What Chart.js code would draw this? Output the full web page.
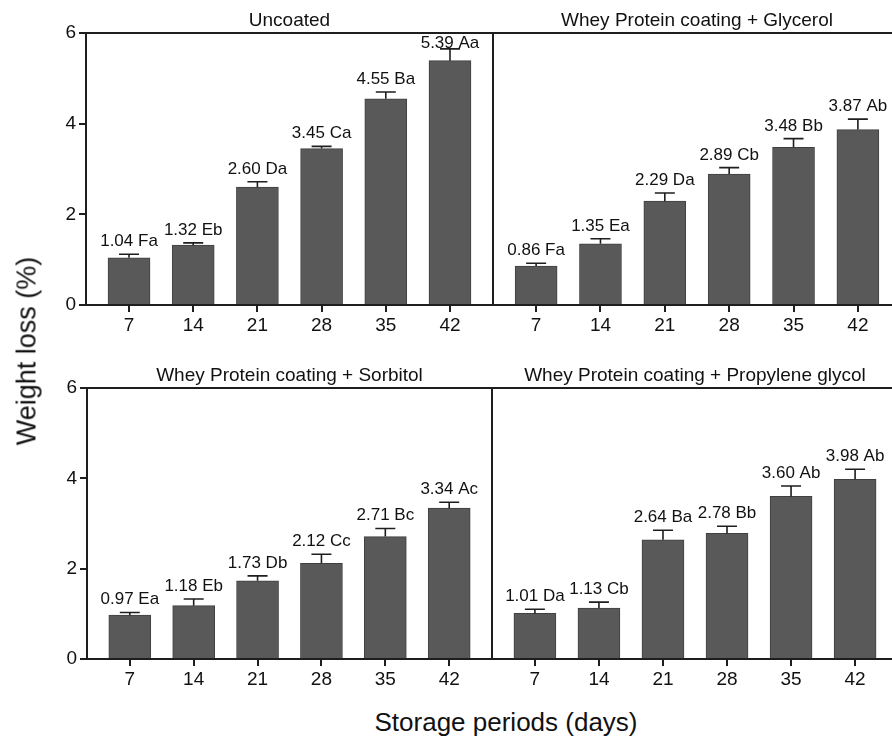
<!DOCTYPE html>
<html>
<head>
<meta charset="utf-8">
<script src="https://cdn.jsdelivr.net/npm/chart.js@4.4.1/dist/chart.umd.min.js"></script>
<style>
  html, body { margin:0; padding:0; background:#fff; }
  body { width:892px; height:738px; overflow:hidden; position:relative; font-family:"Liberation Sans", Arial, sans-serif; color:#111; }
  canvas { position:absolute; }
  .ytitle { position:absolute; left:27px; top:351px; font-size:27px; line-height:27px; white-space:nowrap;
            transform:translate(-50%,-50%) rotate(-90deg); }
  .xtitle { position:absolute; left:506px; top:709px; font-size:26px; line-height:26px; white-space:nowrap;
            transform:translateX(-50%); }
</style>
</head>
<body>
<canvas id="c1" style="left:0px;top:3px"></canvas>
<canvas id="c2" style="left:490px;top:3px"></canvas>
<canvas id="c3" style="left:0px;top:358px"></canvas>
<canvas id="c4" style="left:489px;top:358px"></canvas>
<div class="ytitle">Weight loss (%)</div>
<div class="xtitle">Storage periods (days)</div>
<script>
// ---- data ----
const days = [7, 14, 21, 28, 35, 42];
const dayLabels = ['7', '14', '21', '28', '35', '42'];
const yTicks = [0, 2, 4, 6];

const titleUncoated = 'Uncoated';
const valuesUncoated = [1.04, 1.32, 2.60, 3.45, 4.55, 5.39];
const errorsUncoated = [0.08, 0.05, 0.12, 0.05, 0.15, 0.26];
const lettersUncoated = ['Fa', 'Eb', 'Da', 'Ca', 'Ba', 'Aa'];

const titleGlycerol = 'Whey Protein coating + Glycerol';
const valuesGlycerol = [0.86, 1.35, 2.29, 2.89, 3.48, 3.87];
const errorsGlycerol = [0.06, 0.11, 0.18, 0.14, 0.19, 0.23];
const lettersGlycerol = ['Fa', 'Ea', 'Da', 'Cb', 'Bb', 'Ab'];

const titleSorbitol = 'Whey Protein coating + Sorbitol';
const valuesSorbitol = [0.97, 1.18, 1.73, 2.12, 2.71, 3.34];
const errorsSorbitol = [0.06, 0.15, 0.11, 0.20, 0.18, 0.13];
const lettersSorbitol = ['Ea', 'Eb', 'Db', 'Cc', 'Bc', 'Ac'];

const titlePropylene = 'Whey Protein coating + Propylene glycol';
const valuesPropylene = [1.01, 1.13, 2.64, 2.78, 3.60, 3.98];
const errorsPropylene = [0.09, 0.13, 0.21, 0.16, 0.23, 0.22];
const lettersPropylene = ['Da', 'Cb', 'Ba', 'Bb', 'Ab', 'Ab'];

// ---- drawing ----
const FONT = '"Liberation Sans", Arial, sans-serif';
Chart.defaults.font.family = FONT;
Chart.defaults.color = '#111';
const AXIS = '#1e1e1e';

const extras = {
  id: 'extras',
  afterDatasetsDraw(chart, args, opts) {
    const ctx = chart.ctx;
    const ca = chart.chartArea;
    const ys = chart.scales.y;
    const meta = chart.getDatasetMeta(0);
    ctx.save();
    ctx.strokeStyle = AXIS;
    ctx.lineWidth = 2;
    ctx.beginPath();
    ctx.moveTo(ca.left, Math.round(ca.top));
    ctx.lineTo(ca.right, Math.round(ca.top));
    ctx.stroke();
    ctx.lineWidth = 1.6;
    ctx.font = '17px ' + FONT;
    ctx.fillStyle = '#111';
    ctx.textAlign = 'center';
    ctx.textBaseline = 'alphabetic';
    meta.data.forEach((el, i) => {
      const v = opts.values[i];
      const e = opts.errors[i];
      const yTop = ys.getPixelForValue(v + e);
      ctx.beginPath();
      ctx.moveTo(el.x, el.y);
      ctx.lineTo(el.x, yTop);
      ctx.moveTo(el.x - 10, yTop);
      ctx.lineTo(el.x + 10, yTop);
      ctx.stroke();
      const ly = Math.max(yTop - 8, ca.top + 15);
      ctx.fillText(v.toFixed(2) + ' ' + opts.letters[i], el.x, ly);
    });
    ctx.font = '19px ' + FONT;
    ctx.fillText(opts.title, (ca.left + ca.right) / 2, ca.top - 7);
    ctx.restore();
  }
};

function panel(id, width, height, yw, padRight, title, values, errors, letters, showY) {
  const cv = document.getElementById(id);
  cv.width = width; cv.height = height;
  cv.style.width = width + 'px'; cv.style.height = height + 'px';
  return new Chart(cv, {
    type: 'bar',
    data: {
      datasets: [{
        data: days.map((d, i) => ({ x: d, y: values[i] })),
        backgroundColor: '#595959',
        borderColor: '#404040',
        borderWidth: 1,
        barThickness: 42
      }]
    },
    options: {
      responsive: false,
      animation: false,
      devicePixelRatio: 1,
      layout: { padding: { top: 30, right: padRight, left: 0, bottom: 0 } },
      plugins: {
        legend: { display: false },
        tooltip: { enabled: false },
        extras: { title, values, errors, letters }
      },
      scales: {
        x: {
          type: 'linear',
          offset: false,
          min: 2.31, max: 46.69,
          afterBuildTicks: s => { s.ticks = days.map(v => ({ value: v })); },
          afterFit: s => { s.height = 35; },
          ticks: {
            autoSkip: false, maxRotation: 0, padding: 2,
            font: { size: 19 }, color: '#111',
            callback: (v, i) => dayLabels[i]
          },
          grid: { offset: false, drawOnChartArea: false, drawTicks: true, tickLength: 7, color: AXIS, lineWidth: 2 },
          border: { display: true, color: AXIS, width: 2 }
        },
        y: {
          min: 0, max: 6,
          afterBuildTicks: s => { s.ticks = yTicks.map(v => ({ value: v })); },
          afterFit: s => { s.width = yw; },
          ticks: { display: showY, padding: 3, font: { size: 19 }, color: '#111' },
          grid: { drawOnChartArea: false, drawTicks: showY, tickLength: 7, color: AXIS, lineWidth: 2 },
          border: { display: true, color: AXIS, width: 2 }
        }
      }
    },
    plugins: [extras]
  });
}

panel('c1', 495, 337, 86, 2, titleUncoated, valuesUncoated, errorsUncoated, lettersUncoated, true);
panel('c2', 411, 337, 3, 0, titleGlycerol, valuesGlycerol, errorsGlycerol, lettersGlycerol, false);
panel('c3', 494, 336, 87, 2, titleSorbitol, valuesSorbitol, errorsSorbitol, lettersSorbitol, true);
panel('c4', 409, 336, 3, 0, titlePropylene, valuesPropylene, errorsPropylene, lettersPropylene, false);
</script>
</body>
</html>
